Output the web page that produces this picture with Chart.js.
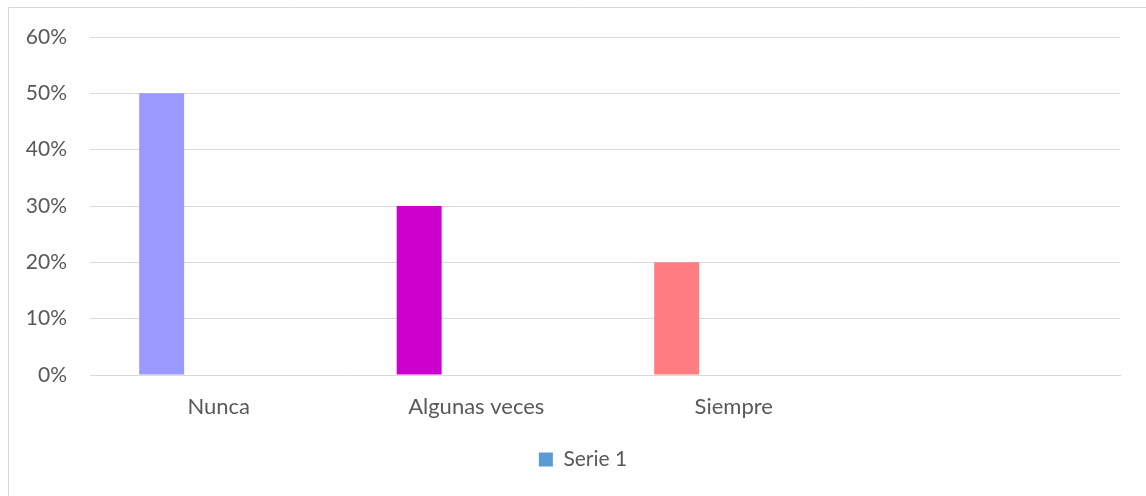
<!DOCTYPE html>
<html>
<head>
<meta charset="utf-8">
<script src="https://cdn.jsdelivr.net/npm/chart.js@4/dist/chart.umd.min.js"></script>
<style>
  html, body { margin: 0; padding: 0; background: #fff; }
  #wrap { width: 1146px; height: 496px; position: relative; }
</style>
</head>
<body>
<div id="wrap"><canvas id="myChart" width="1146" height="496"></canvas></div>
<script>
// Chart data
const categories = ['Nunca', 'Algunas veces', 'Siempre', ''];
const serie1 = [50, 30, 20, null];
const serie2 = [null, null, null, null];
const serie3 = [null, null, null, null];
const serie1Colors = ['#9999FF', '#CC00CC', '#FF7C80', '#5B9BD5'];
const yTicks = [0, 10, 20, 30, 40, 50, 60];

const textColor = '#595959';
const gridColor = '#D9D9D9';
const fontFamily = 'Lato, "Open Sans", sans-serif';

// light frame around the chart (left + top edges visible)
const framePlugin = {
    id: 'frame',
    beforeDraw(chart) {
        const ctx = chart.ctx;
        ctx.save();
        ctx.strokeStyle = '#D9D9D9';
        ctx.lineWidth = 1;
        ctx.beginPath();
        ctx.moveTo(8.5, 496);
        ctx.lineTo(8.5, 7.5);
        ctx.lineTo(1146, 7.5);
        ctx.stroke();
        ctx.restore();
    }
};

const ctx = document.getElementById('myChart').getContext('2d');
new Chart(ctx, {
    type: 'bar',
    data: {
        labels: categories,
        datasets: [
            { label: 'Serie 1', data: serie1, backgroundColor: serie1Colors },
            { label: 'Serie 2', data: serie2, backgroundColor: '#ED7D31' },
            { label: 'Serie 3', data: serie3, backgroundColor: '#A5A5A5' }
        ]
    },
    options: {
        responsive: false,
        animation: false,
        layout: { padding: { top: 37, right: 0, bottom: 16, left: 20 } },
        datasets: {
            bar: { categoryPercentage: 0.665, barPercentage: 0.787 }
        },
        scales: {
            x: {
                grid: { display: false, drawTicks: false },
                border: { display: true, color: gridColor },
                ticks: {
                    color: textColor,
                    padding: 19,
                    font: { family: fontFamily, size: 22 }
                },
                afterFit(scale) { scale.height = 64; }
            },
            y: {
                min: 0,
                max: 60,
                afterBuildTicks(scale) { scale.ticks = yTicks.map(v => ({ value: v })); },
                grid: { color: gridColor, drawTicks: false },
                border: { display: false },
                ticks: {
                    color: textColor,
                    padding: 23,
                    font: { family: fontFamily, size: 21 },
                    callback: v => v + '%'
                },
                afterFit(scale) { scale.width = 70; }
            },
            // empty spacer on the right so the plot ends where the reference does
            yRight: {
                position: 'right',
                display: true,
                grid: { display: false, drawTicks: false },
                border: { display: false },
                ticks: { display: false },
                afterFit(scale) { scale.width = 26; }
            }
        },
        plugins: {
            legend: {
                position: 'bottom',
                labels: {
                    color: textColor,
                    boxWidth: 14,
                    boxHeight: 14,
                    padding: 10,
                    font: { family: fontFamily, size: 21 },
                    filter: item => item.text === 'Serie 1',
                    generateLabels(chart) {
                        return chart.data.datasets.map((ds, i) => ({
                            text: ds.label,
                            fillStyle: i === 0 ? '#5B9BD5' : ds.backgroundColor,
                            strokeStyle: 'rgba(0,0,0,0)',
                            lineWidth: 0,
                            fontColor: textColor,
                            datasetIndex: i
                        }));
                    }
                }
            },
            tooltip: { enabled: false }
        }
    },
    plugins: [framePlugin]
});
</script>
</body>
</html>
